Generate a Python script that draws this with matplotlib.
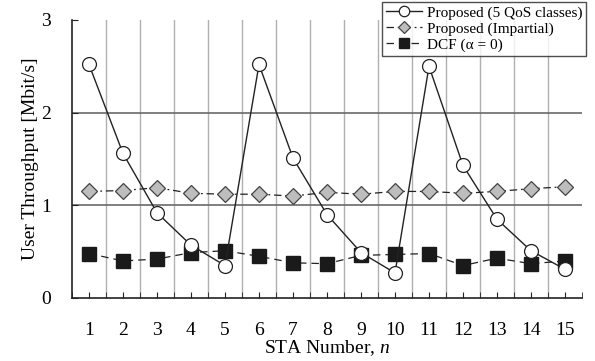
import matplotlib.pyplot as plt

plt.rcParams['font.family'] = ['Liberation Serif', 'DejaVu Serif']
plt.rcParams['mathtext.fontset'] = 'custom'
plt.rcParams['mathtext.rm'] = 'Liberation Serif'
plt.rcParams['mathtext.it'] = 'Liberation Serif:italic'

sta = list(range(1, 16))
proposed_qos = [2.52, 1.56, 0.92, 0.57, 0.35, 2.52, 1.51, 0.90, 0.49, 0.27,
                2.50, 1.43, 0.85, 0.51, 0.31]
proposed_imp = [1.15, 1.16, 1.19, 1.13, 1.12, 1.12, 1.10, 1.14, 1.12, 1.15,
                1.15, 1.13, 1.15, 1.18, 1.20]
dcf = [0.48, 0.40, 0.42, 0.49, 0.51, 0.45, 0.38, 0.37, 0.46, 0.47,
       0.48, 0.35, 0.43, 0.37, 0.40]

fig = plt.figure(figsize=(5.95, 3.61), dpi=100)
ax = fig.add_axes([72 / 595, 1 - 298 / 361, 510 / 595, 278 / 361])

# grid: vertical lines between stations, horizontal at integers
bounds = [k + 0.5 for k in range(0, 16)]
for b in bounds[1:-1]:
    ax.axvline(b, color='#b0b0b0', lw=1.0, zorder=0)
for v in [1, 2]:
    ax.axhline(v, color='#6a6a6a', lw=1.2, zorder=0)

ax.plot(sta, proposed_imp, color='#222222', lw=0.9, ls=(0, (6, 3, 1.5, 3)),
        marker='D', ms=8, mfc='#bdbdbd', mec='#444444', mew=0.9,
        label='Proposed (Impartial)', zorder=3)
ax.plot(sta, dcf, color='#222222', lw=0.9, ls=(0, (6, 4)),
        marker='s', ms=10, mfc='#1a1a1a', mec='#1a1a1a',
        label='DCF (\u03b1 = 0)', zorder=3)
ax.plot(sta, proposed_qos, color='#222222', lw=1.0, ls='-',
        marker='o', ms=10, mfc='white', mec='#222222', mew=0.9,
        label='Proposed (5 QoS classes)', zorder=4)

ax.set_xlim(0.5, 15.5)
ax.set_ylim(0, 3)
ax.set_xticks(sta)
ax.set_xticks(bounds, minor=True)
ax.set_yticks([0, 1, 2, 3])
ax.tick_params(axis='both', which='both', labelsize=14, direction='in',
               length=4, color='#222222')
ax.tick_params(axis='y', pad=15)
ax.tick_params(axis='x', pad=17)
for s in ['top', 'right']:
    ax.spines[s].set_visible(False)
for s in ['left', 'bottom']:
    ax.spines[s].set_color('#222222')
    ax.spines[s].set_linewidth(1.2)

ax.set_xlabel('STA Number, $\\it{n}$', fontsize=14, labelpad=0)
ax.set_ylabel('User Throughput [Mbit/s]', fontsize=14, labelpad=2)

handles, labels = ax.get_legend_handles_labels()
order = [2, 0, 1]
leg = fig.legend([handles[i] for i in order], [labels[i] for i in order],
                 loc='upper left', bbox_to_anchor=(382 / 595, 1 - 2 / 361),
                 fontsize=11, frameon=True, fancybox=False, edgecolor='#222222',
                 borderpad=0.25, labelspacing=0.15, handlelength=2.4,
                 handletextpad=0.3, borderaxespad=0, markerscale=0.75)
leg.get_frame().set_linewidth(1.0)

fig.savefig('out.png', dpi=100)
